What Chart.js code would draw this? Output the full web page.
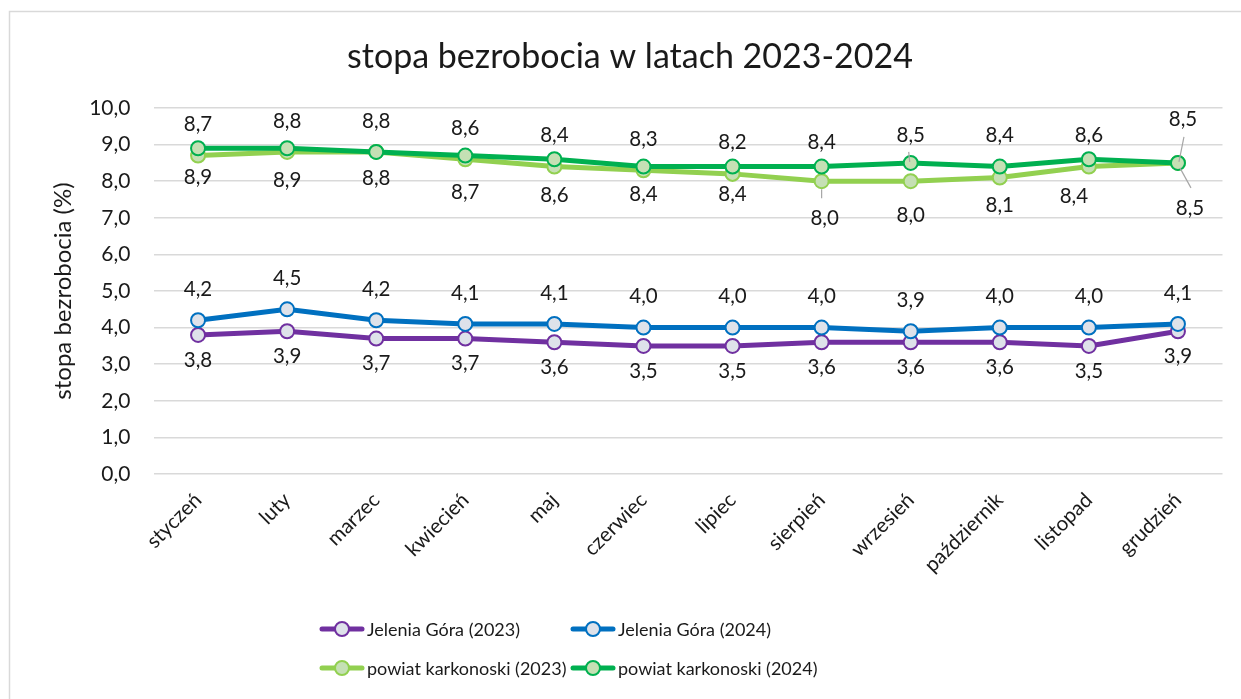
<!DOCTYPE html>
<html><head><meta charset="utf-8">
<script src="https://cdn.jsdelivr.net/npm/chart.js@4"></script>
<style>html,body{margin:0;padding:0;background:#fff;overflow:hidden}#wrap{width:1241px;height:699px;position:relative}</style>
</head><body><div id="wrap"><canvas id="c" width="1241" height="699"></canvas></div>
<script>
// ---- data ----
const categories = ['styczeń','luty','marzec','kwiecień','maj','czerwiec','lipiec','sierpień','wrzesień','październik','listopad','grudzień'];
const jeleniaGora2023 = [3.8,3.9,3.7,3.7,3.6,3.5,3.5,3.6,3.6,3.6,3.5,3.9];
const jeleniaGora2024 = [4.2,4.5,4.2,4.1,4.1,4.0,4.0,4.0,3.9,4.0,4.0,4.1];
const powiat2023 = [8.7,8.8,8.8,8.6,8.4,8.3,8.2,8.0,8.0,8.1,8.4,8.5];
const powiat2024 = [8.9,8.9,8.8,8.7,8.6,8.4,8.4,8.4,8.5,8.4,8.6,8.5];
const seriesNames = ['Jelenia Góra (2023)','Jelenia Góra (2024)','powiat karkonoski (2023)','powiat karkonoski (2024)'];
const yTickValues = [0,1,2,3,4,5,6,7,8,9,10];
const titleText = 'stopa bezrobocia w latach 2023-2024';
const yTitleText = 'stopa bezrobocia (%)';

// ---- styles ----
const FONT = 'Lato';
const TXT = '#1a1a1a';
const colors = ['#7030A0','#0070C0','#92D050','#00B050'];
const pointFills = ['#DEE2EA','#DEE2EA','#C5E0B4','#C5E0B4'];
// label offsets (px from the point) per series
const labelDy = [
  [25,25,25,25,25,25,25,25,25,25,25,25],
  [-31,-31,-31,-31,-31,-31,-31,-31,-31,-31,-31,-31],
  [-31,-31,-31,-31,-31,-31,-31,37,34,28,30,45],
  [29,32,26,37,36,28,28,-24,-28,-31,-24,-44]
];
const labelDx = [
  [0,0,0,0,0,0,0,0,0,0,0,0],
  [0,0,0,0,0,0,0,0,0,0,0,0],
  [0,0,0,0,0,0,0,3,0,0,-15,12],
  [0,0,0,0,0,0,0,0,0,0,0,5]
];
// leader lines: [series, index, x1, y1, x2, y2] relative to the point
const leaders = [
  [2,7,0,8,0,17],
  [2,11,2,5,13,25],
  [3,8,-2,-11,-1,-1],
  [3,11,6,-26,1,-1]
];

const allSeries = [jeleniaGora2023, jeleniaGora2024, powiat2023, powiat2024];
const drawOrder = [3,2,1,0]; // chart.js draws lower "order" on top

const datasets = allSeries.map((d,i)=>({
  label: seriesNames[i],
  data: d,
  borderColor: colors[i],
  backgroundColor: colors[i],
  borderWidth: 5,
  pointRadius: 7,
  pointHoverRadius: 7,
  pointBorderWidth: 2,
  pointBorderColor: colors[i],
  pointBackgroundColor: pointFills[i],
  tension: 0,
  order: drawOrder[i]
}));

const fmt = v => v.toFixed(1).replace('.', ',');

const decor = {
  id: 'decor',
  beforeDraw(chart){
    const c = chart.ctx;
    c.save();
    c.fillStyle = '#fff';
    c.fillRect(0,0,chart.width,chart.height);
    c.strokeStyle = '#D9D9D9';
    c.lineWidth = 1.5;
    c.strokeRect(9.5, 11.5, 1300, 800);
    c.fillStyle = TXT;
    c.font = '34px ' + FONT;
    c.textAlign = 'center';
    c.textBaseline = 'middle';
    c.fillText(titleText, 630, 57);
    c.restore();
  },
  afterDatasetsDraw(chart){
    const c = chart.ctx;
    c.save();
    c.strokeStyle = '#A6A6A6';
    c.lineWidth = 1.2;
    leaders.forEach(([s,i,x1,y1,x2,y2])=>{
      const p = chart.getDatasetMeta(s).data[i];
      c.beginPath();
      c.moveTo(p.x+x1, p.y+y1);
      c.lineTo(p.x+x2, p.y+y2);
      c.stroke();
    });
    c.fillStyle = TXT;
    c.font = '20.5px ' + FONT;
    c.textAlign = 'center';
    c.textBaseline = 'middle';
    allSeries.forEach((d,s)=>{
      const meta = chart.getDatasetMeta(s);
      d.forEach((v,i)=>{
        const p = meta.data[i];
        c.fillText(fmt(v), p.x + labelDx[s][i], p.y + labelDy[s][i]);
      });
    });
    c.restore();
  },
  afterDraw(chart){
    const c = chart.ctx;
    c.save();
    const cols = [320, 571];
    const rows = [629, 668];
    c.font = '18px ' + FONT;
    c.textBaseline = 'middle';
    c.textAlign = 'left';
    seriesNames.forEach((name,i)=>{
      const x = cols[i%2], y = rows[Math.floor(i/2)];
      c.strokeStyle = colors[i];
      c.lineWidth = 5;
      c.lineCap = 'round';
      c.beginPath(); c.moveTo(x+2,y); c.lineTo(x+42,y); c.stroke();
      c.beginPath(); c.arc(x+22,y,7,0,Math.PI*2);
      c.fillStyle = pointFills[i]; c.fill();
      c.lineWidth = 2; c.stroke();
      c.fillStyle = TXT;
      c.fillText(name, x+47, y+1);
    });
    c.restore();
  }
};

new Chart(document.getElementById('c'), {
  type: 'line',
  data: { labels: categories, datasets },
  plugins: [decor],
  options: {
    responsive: false,
    animation: false,
    events: [],
    layout: { padding: { left: 9, right: 18.5, top: 108, bottom: 0 } },
    plugins: { legend: { display: false }, title: { display: false }, tooltip: { enabled: false } },
    scales: {
      x: {
        offset: true,
        grid: { display: false, drawTicks: false },
        border: { display: false },
        ticks: { maxRotation: 45, minRotation: 45, padding: 14, color: TXT, font: { family: FONT, size: 20.5 } },
        afterFit: s => { s.height = 225; }
      },
      y: {
        min: 0, max: 10,
        afterBuildTicks: s => { s.ticks = yTickValues.map(v => ({ value: v })); },
        grid: { color: '#D9D9D9', lineWidth: 1.5, drawTicks: false },
        border: { display: false },
        ticks: { padding: 23, color: TXT, font: { family: FONT, size: 21 }, callback: v => fmt(v) },
        title: { display: true, text: yTitleText, color: TXT, font: { family: FONT, size: 24 }, padding: { top: 40 } },
        afterFit: s => { s.width = 144.5; }
      }
    }
  }
});
</script></body></html>
